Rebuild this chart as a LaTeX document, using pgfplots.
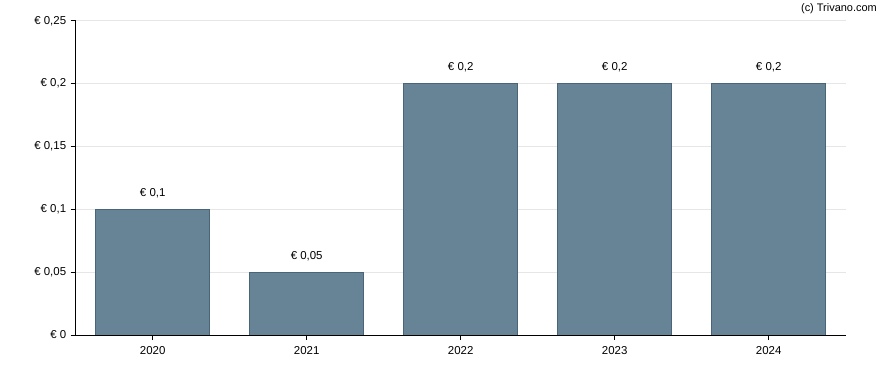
\documentclass[border=0pt]{standalone}
\usepackage{pgfplots}
\pgfplotsset{compat=1.18}
\usepackage{fontspec}
\setmainfont{Liberation Sans}
\definecolor{barfill}{HTML}{678396}
\definecolor{baredge}{HTML}{4A6479}
\definecolor{gridc}{HTML}{E6E6E6}
\begin{document}
\begin{tikzpicture}
\path[use as bounding box] (0,0) rectangle (888bp,370bp);
\node[anchor=north east, inner sep=0pt, font=\fontsize{11}{13}\selectfont] at (877bp,367bp) {(c) Trivano.com};
\begin{axis}[
  at={(75.7bp,35bp)}, anchor=south west,
  scale only axis, width=770bp, height=314.2bp,
  xmin=-0.5, xmax=4.5, ymin=0, ymax=0.25,
  axis x line*=bottom, axis y line*=left,
  x axis line style={-, black, line width=0.9pt},
  y axis line style={-, black, line width=0.9pt},
  xtick={0,1,2,3,4},
  xticklabels={2020,2021,2022,2023,2024},
  ytick={0,0.05,0.1,0.15,0.2,0.25},
  yticklabels={€ 0,€ 0{,}05,€ 0{,}1,€ 0{,}15,€ 0{,}2,€ 0{,}25},
  ymajorgrids, grid style={gridc, line width=0.8pt},
  tick align=outside, major tick length=5bp,
  tick style={black, line width=0.9pt},
  ticklabel style={font=\fontsize{11.5}{13}\selectfont, black},
  yticklabel style={xshift=-1bp},
  xticklabel style={yshift=-3bp},
  /pgf/number format/assume math mode=true,
  point meta=explicit symbolic,
  nodes near coords,
  every node near coord/.append style={font=\fontsize{11.5}{13}\selectfont, black, anchor=base, inner sep=0pt, yshift=13bp},
]
\addplot[ybar, bar width=0.742, fill=barfill, draw=baredge, line width=0.7pt]
coordinates {(0,0.1) [€ 0,1] (1,0.05) [€ 0,05] (2,0.2) [€ 0,2] (3,0.2) [€ 0,2] (4,0.2) [€ 0,2]};
\end{axis}
\end{tikzpicture}
\end{document}
